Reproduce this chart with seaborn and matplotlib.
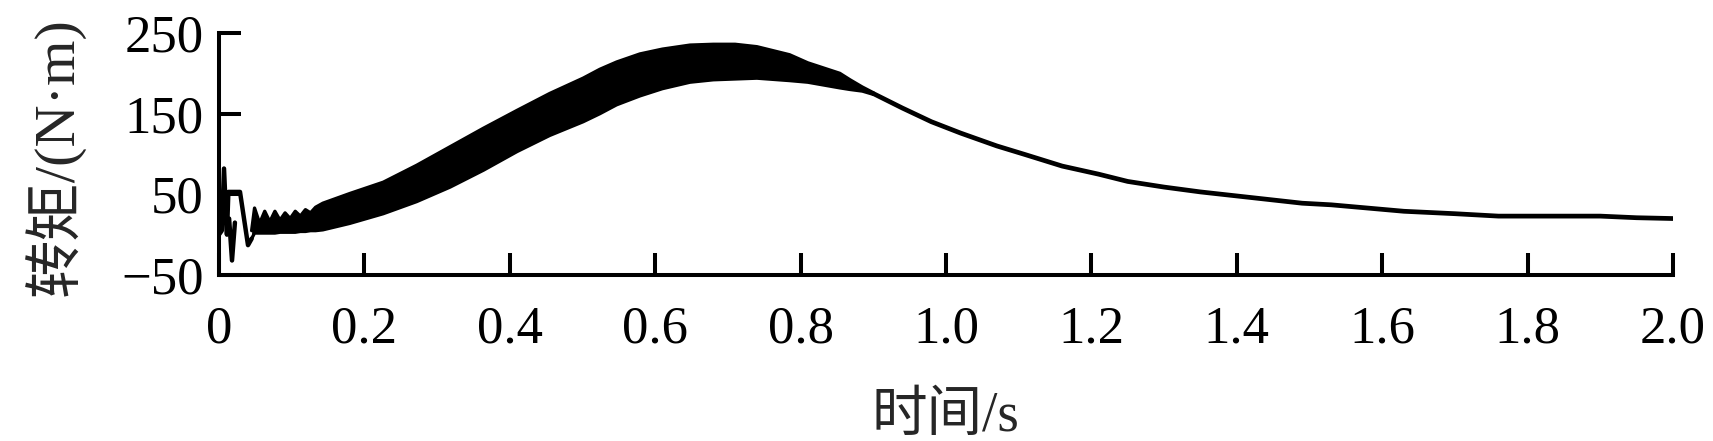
import numpy as np
import pandas as pd
import seaborn as sns
import matplotlib
matplotlib.use("Agg")
import matplotlib.pyplot as plt

sns.set_style("ticks")
plt.rcParams['font.family'] = ['Liberation Serif', 'Noto Sans CJK SC']
plt.rcParams['axes.unicode_minus'] = True

# start-up transient
trans_t = [0.000, 0.004, 0.007, 0.011, 0.013, 0.029, 0.040, 0.045]
trans_T = [0, 5, 82, 0, 53, 53, -13, -5]
dip_t = [0.014, 0.018, 0.022]
dip_T = [20, -32, 15]

# oscillating band: upper / lower envelope
band_t = [0.045, 0.049, 0.056, 0.063, 0.070, 0.077, 0.084, 0.091, 0.098, 0.105,
          0.112, 0.119, 0.126, 0.133, 0.143, 0.180, 0.226, 0.272, 0.318, 0.364,
          0.410, 0.455, 0.501, 0.524, 0.547, 0.579, 0.610, 0.648, 0.680, 0.710,
          0.740, 0.785, 0.810, 0.854, 0.868, 0.885, 0.900]
band_hi = [5, 33, 14, 29, 16, 29, 18, 27, 20, 29,
           23, 31, 27, 34, 39, 51, 65, 86, 109, 132,
           154, 175, 194, 205, 214, 224, 230, 235, 236, 236,
           233, 223, 213, 200, 192, 183, 176]
band_lo = [-5, 2, 2, 2, 2, 2, 3, 3, 3, 3,
           4, 4, 5, 5, 6, 14, 26, 41, 59, 80,
           103, 123, 140, 150, 161, 172, 181, 189, 192, 193,
           194, 191, 189, 182, 180, 178, 174]

# decay after the band collapses
tail_t = [0.90, 0.94, 0.98, 1.02, 1.07, 1.11, 1.16, 1.21, 1.25, 1.30, 1.35,
          1.40, 1.44, 1.49, 1.53, 1.58, 1.63, 1.70, 1.76, 1.83, 1.90, 1.95, 2.00]
tail_T = [175, 157, 140, 126, 110, 99, 85, 75, 66, 59, 53,
          48, 44, 39, 37, 33, 29, 26, 23, 23, 23, 21, 20]

xticks = [0, 0.2, 0.4, 0.6, 0.8, 1.0, 1.2, 1.4, 1.6, 1.8, 2.0]
xticklabels = ["0", "0.2", "0.4", "0.6", "0.8", "1.0", "1.2", "1.4", "1.6", "1.8", "2.0"]
yticks = [-50, 50, 150, 250]

fig = plt.figure(figsize=(17.13, 4.41), dpi=100)
ax = fig.add_axes([0.1278, 0.3764, 0.8488, 0.5488])

band = pd.DataFrame({'t': band_t, 'hi': band_hi, 'lo': band_lo})
ax.fill_between(band['t'], band['lo'], band['hi'], color='black', lw=0)
sns.lineplot(x=band_t, y=band_hi, ax=ax, color='black', lw=2.4, sort=False)
sns.lineplot(x=band_t, y=band_lo, ax=ax, color='black', lw=2.4, sort=False)
sns.lineplot(x=trans_t, y=trans_T, ax=ax, color='black', lw=3.2, sort=False)
sns.lineplot(x=dip_t, y=dip_T, ax=ax, color='black', lw=3.2, sort=False)
sns.lineplot(x=tail_t, y=tail_T, ax=ax, color='black', lw=3.4, sort=False)

ax.set_xlim(0, 2.0)
ax.set_ylim(-50, 250)
ax.set_xticks(xticks)
ax.set_xticklabels(xticklabels)
ax.set_yticks(yticks)

for side in ['top', 'right']:
    ax.spines[side].set_visible(False)
for side in ['left', 'bottom']:
    ax.spines[side].set_linewidth(2.9)
    ax.spines[side].set_color('black')

ax.tick_params(axis='both', direction='in', length=16, width=2.9,
               labelsize=38, colors='black')
ax.tick_params(axis='x', pad=22)
ax.tick_params(axis='y', pad=11)

ax.set_xlabel("时间/s", fontsize=40)
ax.set_ylabel("转矩/(N·m)", fontsize=42)
ax.xaxis.set_label_coords(0.5, -0.48)
ax.yaxis.set_label_coords(-0.092, 0.49)

fig.savefig("out.png", dpi=100)
